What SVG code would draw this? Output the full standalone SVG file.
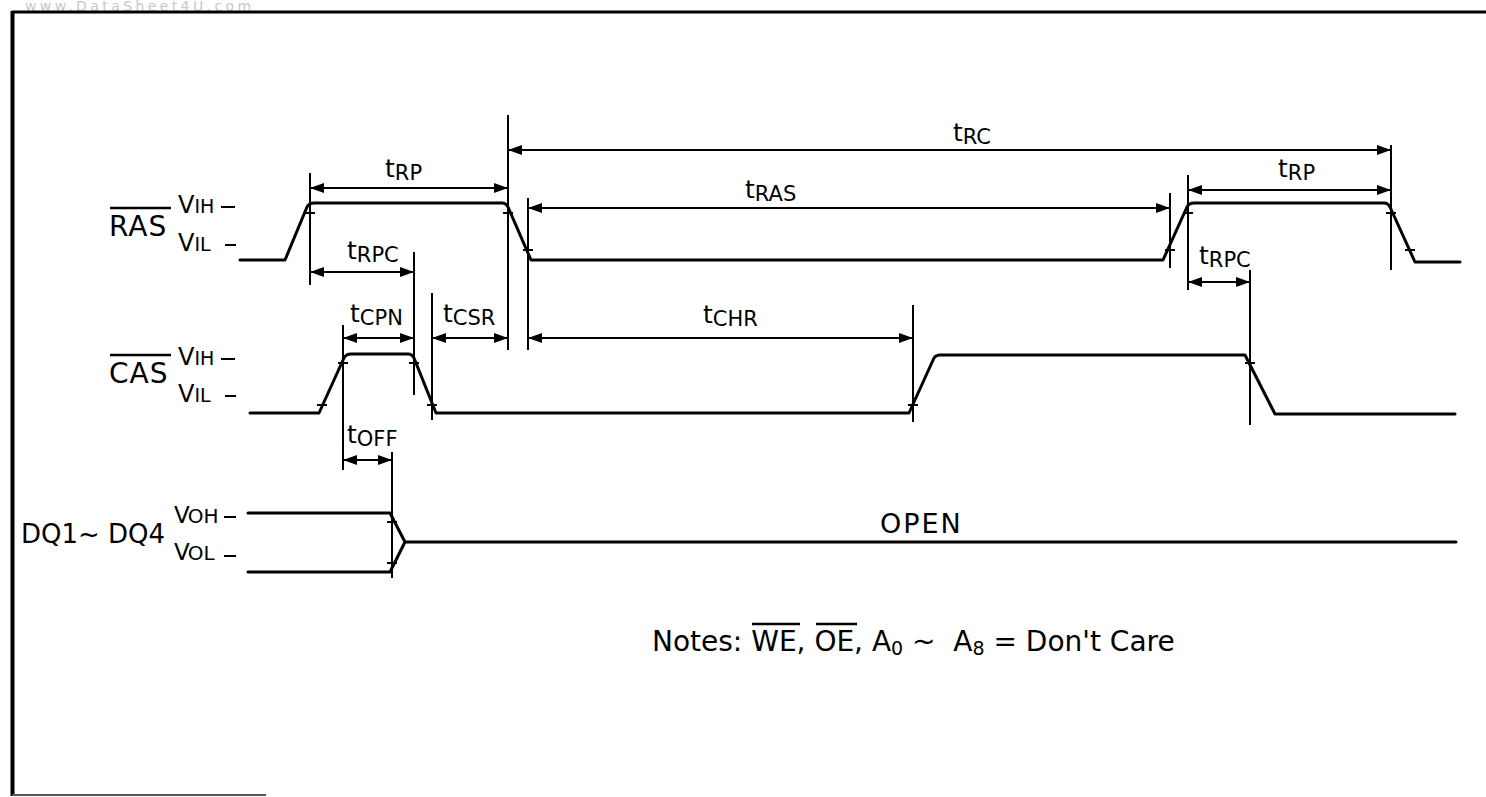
<svg xmlns="http://www.w3.org/2000/svg" width="1486" height="797" viewBox="0 0 1486 797">
<style>
text{font-family:"DejaVu Sans","Liberation Sans",Arial,sans-serif;fill:#000}
.w{fill:none;stroke:#000;stroke-width:3;stroke-linejoin:round;stroke-linecap:round}
.v{stroke:#000;stroke-width:2;fill:none}
.a{stroke:#000;stroke-width:2;fill:none;marker-start:url(#ah);marker-end:url(#ah)}
.k{stroke:#000;stroke-width:2}
.t{font-size:25px}
.s{font-size:21px}
.big{font-size:28px}
.sm{font-size:19px}
.ol{stroke:#000;stroke-width:2.5}
</style>
<defs>
<marker id="ah" viewBox="0 0 14 10" refX="14" refY="5" markerWidth="14" markerHeight="10" markerUnits="userSpaceOnUse" orient="auto-start-reverse">
<path d="M0,0 L14,5 L0,10 z" fill="#000"/>
</marker>
</defs>
<rect width="1486" height="797" fill="#fff"/>
<text x="25" y="10.5" font-size="14" letter-spacing="3.4" style="fill:#c8c8c8">www.DataSheet4U.com</text>
<g id="frame">
<line x1="12" y1="12" x2="1486" y2="12" stroke="#000" stroke-width="3"/>
<line x1="12.5" y1="11" x2="12.5" y2="796" stroke="#000" stroke-width="4"/>
<line x1="12" y1="795" x2="266" y2="795" stroke="#555" stroke-width="2"/>
</g>
<g id="ras">
<line class="ol" x1="110" y1="208" x2="171" y2="208"/>
<text x="109" y="236" class="big" letter-spacing="1">RAS</text>
<text x="178" y="213" font-size="24">V<tspan class="sm">IH</tspan></text>
<line class="k" x1="221" y1="207" x2="235" y2="207"/>
<text x="178" y="251" font-size="24">V<tspan class="sm">IL</tspan></text>
<line class="k" x1="225" y1="245" x2="236" y2="245"/>
<path class="w" d="M240,260 H285 L307,207 Q309,203 314,203 H502 Q506,203 508,207 L531,260 H1163 L1187,207 Q1189,203 1194,203 H1384 Q1388,203 1390,207 L1415,262 H1460"/>
</g>
<g id="cas">
<line class="ol" x1="110" y1="355" x2="171" y2="355"/>
<text x="109" y="383" class="big" letter-spacing="1">CAS</text>
<text x="178" y="365" font-size="24">V<tspan class="sm">IH</tspan></text>
<line class="k" x1="221" y1="359" x2="235" y2="359"/>
<text x="178" y="402" font-size="24">V<tspan class="sm">IL</tspan></text>
<line class="k" x1="225" y1="396" x2="236" y2="396"/>
<path class="w" d="M250,413 H319 L344,358 Q346,354 351,354 H408 Q412,354 414,358 L436,413 H909 L934,358 Q936,355 940,355 H1245 L1275,414 H1455"/>
</g>
<g id="dq">
<text x="21" y="543" font-size="26">DQ1~ DQ4</text>
<text x="174" y="523" font-size="23">V<tspan font-size="20" dx="-2">OH</tspan></text>
<line class="k" x1="224" y1="517" x2="236" y2="517"/>
<text x="174" y="560" font-size="23">V<tspan font-size="20" dx="-2">OL</tspan></text>
<line class="k" x1="224" y1="556" x2="236" y2="556"/>
<path class="w" d="M248,513 H390 L405,542 L390,572 H248 M405,542 H1456"/>
<text x="880" y="533" font-size="27" letter-spacing="2">OPEN</text>
</g>
<g id="connectors">
<line class="v" x1="310" y1="173" x2="310" y2="285"/>
<line class="v" x1="508" y1="115" x2="508" y2="350"/>
<line class="v" x1="528" y1="198" x2="528" y2="350"/>
<line class="v" x1="414" y1="252" x2="414" y2="395"/>
<line class="v" x1="432" y1="293" x2="432" y2="420"/>
<line class="v" x1="343" y1="325" x2="343" y2="470"/>
<line class="v" x1="913" y1="305" x2="913" y2="422"/>
<line class="v" x1="1170" y1="193" x2="1170" y2="268"/>
<line class="v" x1="1188" y1="175" x2="1188" y2="290"/>
<line class="v" x1="1391" y1="145" x2="1391" y2="270"/>
<line class="v" x1="1250" y1="270" x2="1250" y2="425"/>
<line class="v" x1="392" y1="452" x2="392" y2="578"/>
<line class="a" x1="508" y1="150" x2="1391" y2="150"/>
<line class="a" x1="310" y1="188" x2="508" y2="188"/>
<line class="a" x1="528" y1="208" x2="1170" y2="208"/>
<line class="a" x1="1188" y1="190" x2="1391" y2="190"/>
<line class="a" x1="310" y1="272" x2="414" y2="272"/>
<line class="a" x1="1188" y1="282" x2="1250" y2="282"/>
<line class="a" x1="343" y1="338" x2="414" y2="338"/>
<line class="a" x1="432" y1="338" x2="508" y2="338"/>
<line class="a" x1="528" y1="338" x2="913" y2="338"/>
<line class="a" x1="343" y1="460" x2="392" y2="460"/>
<g class="k">
<line x1="305" y1="213" x2="315" y2="213"/>
<line x1="503" y1="213" x2="513" y2="213"/>
<line x1="523" y1="250" x2="533" y2="250"/>
<line x1="1165" y1="250" x2="1175" y2="250"/>
<line x1="1183" y1="213" x2="1193" y2="213"/>
<line x1="1386" y1="213" x2="1396" y2="213"/>
<line x1="1405" y1="250" x2="1415" y2="250"/>
<line x1="317" y1="405" x2="327" y2="405"/>
<line x1="338" y1="363" x2="348" y2="363"/>
<line x1="409" y1="363" x2="419" y2="363"/>
<line x1="427" y1="405" x2="437" y2="405"/>
<line x1="908" y1="405" x2="918" y2="405"/>
<line x1="1245" y1="363" x2="1255" y2="363"/>
<line x1="387" y1="522" x2="397" y2="522"/>
<line x1="387" y1="563" x2="397" y2="563"/>
</g>
</g>
<g id="labels">
<text x="953" y="141" class="t">t<tspan class="s" dy="3">RC</tspan></text>
<text x="385" y="177" class="t">t<tspan class="s" dy="3">RP</tspan></text>
<text x="745" y="198" class="t">t<tspan class="s" dy="3">RAS</tspan></text>
<text x="1278" y="177" class="t">t<tspan class="s" dy="3">RP</tspan></text>
<text x="347" y="259" class="t">t<tspan class="s" dy="3">RPC</tspan></text>
<text x="1199" y="264" class="t">t<tspan class="s" dy="3">RPC</tspan></text>
<text x="350" y="322" class="t">t<tspan class="s" dy="3">CPN</tspan></text>
<text x="443" y="322" class="t">t<tspan class="s" dy="3">CSR</tspan></text>
<text x="703" y="323" class="t">t<tspan class="s" dy="3">CHR</tspan></text>
<text x="347" y="443" class="t">t<tspan class="s" dy="3">OFF</tspan></text>
</g>
<g id="notes">
<text x="652" y="651" font-size="28" xml:space="preserve">Notes: WE, OE, A<tspan font-size="19" dy="4">0</tspan><tspan dy="-4"> ~  A</tspan><tspan font-size="19" dy="4">8</tspan><tspan dy="-4"> = Don't Care</tspan></text>
<line class="ol" x1="752" y1="624" x2="800" y2="624"/>
<line class="ol" x1="816" y1="624" x2="857" y2="624"/>
</g>
</svg>
